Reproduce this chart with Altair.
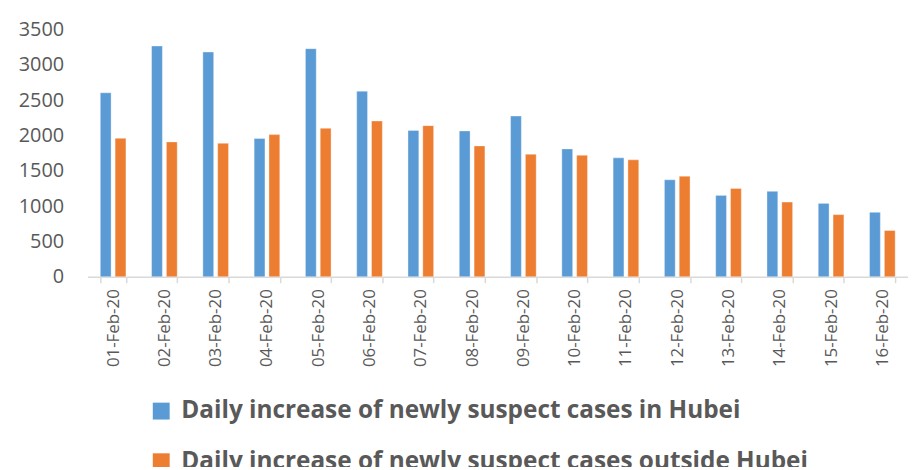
import altair as alt
import pandas as pd

dates = ["01-Feb-20", "02-Feb-20", "03-Feb-20", "04-Feb-20", "05-Feb-20", "06-Feb-20",
         "07-Feb-20", "08-Feb-20", "09-Feb-20", "10-Feb-20", "11-Feb-20", "12-Feb-20",
         "13-Feb-20", "14-Feb-20", "15-Feb-20", "16-Feb-20"]
hubei = [2603, 3265, 3180, 1957, 3227, 2626, 2071, 2063, 2274, 1809, 1682, 1372,
         1151, 1208, 1038, 912]
outside = [1958, 1908, 1888, 2011, 2100, 2204, 2138, 1851, 1733, 1719, 1654, 1423,
           1250, 1057, 879, 654]
series = ["Daily increase of newly suspect cases in Hubei",
          "Daily increase of newly suspect cases outside Hubei"]
colors = ["#5b9bd5", "#ed7d31"]
y_ticks = [0, 500, 1000, 1500, 2000, 2500, 3000, 3500]

rows = []
for d, h, o in zip(dates, hubei, outside):
    rows.append({"date": d, "series": series[0], "value": h})
    rows.append({"date": d, "series": series[1], "value": o})
df = pd.DataFrame(rows)

chart = alt.Chart(df).mark_bar(stroke="white", strokeWidth=0.6, strokeOpacity=0.6).encode(
    x=alt.X("date:N", sort=dates, title=None,
            scale=alt.Scale(paddingInner=0.5, paddingOuter=0.25),
            axis=alt.Axis(labelAngle=-90, labelFont="Open Sans", labelFontSize=17,
                          labelColor="#595959", labelPadding=6,
                          domainColor="#d9d9d9", domainWidth=1.5,
                          tickColor="#d9d9d9", tickWidth=1.5, tickSize=6,
                          tickBand="extent", grid=False)),
    xOffset=alt.XOffset("series:N", sort=series,
                        scale=alt.Scale(paddingInner=0.27, paddingOuter=0)),
    y=alt.Y("value:Q", title=None,
            scale=alt.Scale(domain=[0, 3500], nice=False),
            axis=alt.Axis(values=y_ticks, format="d", grid=False, domain=False, ticks=False,
                          labelFont="Open Sans", labelFontSize=20,
                          labelColor="#595959", labelPadding=24)),
    color=alt.Color("series:N", sort=series,
                    scale=alt.Scale(domain=series, range=colors),
                    legend=alt.Legend(title=None, orient="none", legendX=62, legendY=372,
                                      direction="vertical", symbolType="square",
                                      symbolSize=289, symbolStrokeWidth=0,
                                      labelFont="Open Sans", labelFontSize=24.5,
                                      labelFontWeight="bold", labelColor="#595959",
                                      labelLimit=800, rowPadding=26, padding=0,
                                      labelOffset=8)),
).properties(
    width=826, height=249,
    autosize=alt.AutoSizeParams(type="none"),
    padding={"left": 80, "top": 20, "right": 0, "bottom": 190},
).configure_view(stroke=None)

chart.save("out.html", embed_options={"renderer": "svg", "actions": False})
